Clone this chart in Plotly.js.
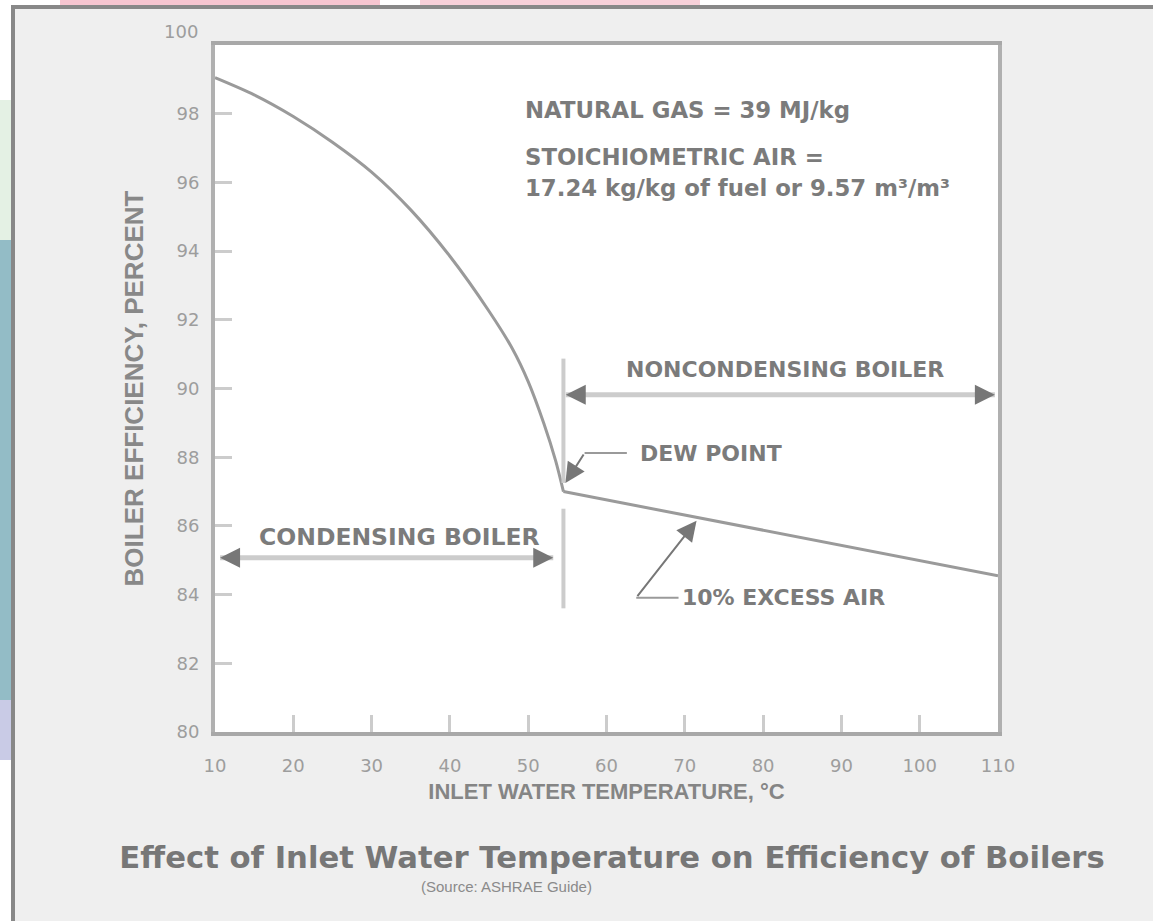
<!DOCTYPE html>
<html>
<head>
<meta charset="utf-8">
<script src="https://cdn.plot.ly/plotly-3.0.1.min.js"></script>
<style>
html,body{margin:0;padding:0;background:#ffffff;}
#chart{width:1153px;height:921px;}
</style>
</head>
<body>
<div id="chart"></div>
<script>
// ---- data ----
const condensingTemp = [10, 15, 20, 25, 30, 35, 40, 45, 48, 50, 52, 53.5, 54.5];
const condensingEff  = [99.05, 98.55, 97.92, 97.17, 96.3, 95.2, 93.85, 92.25, 91.15, 90.2, 88.98, 87.9, 87.0];
const nonCondensingTemp = [54.5, 110];
const nonCondensingEff  = [87.0, 84.55];
const xTickVals = [10, 20, 30, 40, 50, 60, 70, 80, 90, 100, 110];
const xTickLabels = ['10','20','30','40','50','60','70','80','90','100','110'];
const yTickVals = [80, 82, 84, 86, 88, 90, 92, 94, 96, 98, 100];
const yTickLabels = ['80','82','84','86','88','90','92','94','96','98',''];
const dewPointTemp = 54.5;

// ---- geometry helpers (plot area in pixels) ----
const W = 1153, H = 921;
const PL = 215, PR = 998, PT = 45, PB = 732;
const pxX = p => (p - PL) / (PR - PL);
const pxY = p => (PB - p) / (PB - PT);

const annFont = {family: 'DejaVu Sans', size: 22, color: '#7b7b7b', weight: 'bold'};
const arrowGray = '#777777';

const traces = [
  {x: condensingTemp, y: condensingEff, mode: 'lines', line: {color: '#9a9a9a', width: 3, shape: 'spline', smoothing: 0.8}, hoverinfo: 'skip'},
  {x: nonCondensingTemp, y: nonCondensingEff, mode: 'lines', line: {color: '#9a9a9a', width: 3}, hoverinfo: 'skip'}
];

const shapes = [
  // white outer strips and frame
  {type: 'rect', xref: 'paper', yref: 'paper', x0: pxX(0), x1: pxX(11), y0: pxY(921), y1: pxY(0), fillcolor: '#ffffff', line: {width: 0}, layer: 'below'},
  {type: 'rect', xref: 'paper', yref: 'paper', x0: pxX(0), x1: pxX(1153), y0: pxY(5.5), y1: pxY(0), fillcolor: '#ffffff', line: {width: 0}, layer: 'below'},
  {type: 'rect', xref: 'paper', yref: 'paper', x0: pxX(60), x1: pxX(380), y0: pxY(5.5), y1: pxY(0), fillcolor: 'rgba(238,150,170,0.55)', line: {width: 0}, layer: 'below'},
  {type: 'rect', xref: 'paper', yref: 'paper', x0: pxX(420), x1: pxX(700), y0: pxY(5.5), y1: pxY(0), fillcolor: 'rgba(238,150,170,0.45)', line: {width: 0}, layer: 'below'},
  {type: 'rect', xref: 'paper', yref: 'paper', x0: pxX(0), x1: pxX(11), y0: pxY(240), y1: pxY(100), fillcolor: '#e4f1e4', line: {width: 0}, layer: 'below'},
  {type: 'rect', xref: 'paper', yref: 'paper', x0: pxX(0), x1: pxX(11), y0: pxY(700), y1: pxY(240), fillcolor: '#93bcc6', line: {width: 0}, layer: 'below'},
  {type: 'rect', xref: 'paper', yref: 'paper', x0: pxX(0), x1: pxX(11), y0: pxY(760), y1: pxY(700), fillcolor: '#c9cbe6', line: {width: 0}, layer: 'below'},
  {type: 'line', xref: 'paper', yref: 'paper', x0: pxX(13), x1: pxX(13), y0: pxY(921), y1: pxY(6), line: {color: '#888888', width: 4}},
  {type: 'line', xref: 'paper', yref: 'paper', x0: pxX(11), x1: pxX(1153), y0: pxY(7), y1: pxY(7), line: {color: '#888888', width: 4}},
  // dew point vertical divider
  {type: 'line', x0: dewPointTemp, x1: dewPointTemp, y0: 90.87, y1: 87.25, line: {color: '#cccccc', width: 4}},
  {type: 'line', x0: dewPointTemp, x1: dewPointTemp, y0: 86.5, y1: 83.6, line: {color: '#cccccc', width: 4}},
  // double-arrow shafts
  {type: 'line', x0: 10.65, x1: 53.2, y0: 85.07, y1: 85.07, line: {color: '#cccccc', width: 5}},
  {type: 'line', x0: 54.8, x1: 109.6, y0: 89.82, y1: 89.82, line: {color: '#cccccc', width: 5}},
  // leader horizontals
  {type: 'line', x0: 57.2, x1: 62.6, y0: 88.12, y1: 88.12, line: {color: '#9a9a9a', width: 2}},
  {type: 'line', x0: 63.8, x1: 69.2, y0: 83.91, y1: 83.91, line: {color: '#9a9a9a', width: 2}}
];

function arrowAnn(x, y, ax, ay) {
  return {x: x, y: y, ax: ax, ay: ay, xref: 'x', yref: 'y', axref: 'x', ayref: 'y', text: '',
    showarrow: true, arrowhead: 2, arrowsize: 2, arrowwidth: 2, arrowcolor: arrowGray, standoff: 0, startstandoff: 0};
}

const annotations = [
  {text: 'NATURAL GAS = 39 MJ/kg', x: 49.3, y: 98.1, xanchor: 'left', yanchor: 'middle', showarrow: false, font: Object.assign({}, annFont, {size: 22.8})},
  {text: 'STOICHIOMETRIC AIR =', x: 49.3, y: 96.73, xanchor: 'left', yanchor: 'middle', showarrow: false, font: Object.assign({}, annFont, {size: 22.8})},
  {text: '17.24 kg/kg of fuel or 9.57 m³/m³', x: 49.3, y: 95.83, xanchor: 'left', yanchor: 'middle', showarrow: false, font: Object.assign({}, annFont, {size: 22.8})},
  {text: 'NONCONDENSING BOILER', x: 82.8, y: 90.56, xanchor: 'center', yanchor: 'middle', showarrow: false, font: annFont},
  {text: 'DEW POINT', x: 64.0, y: 88.11, xanchor: 'left', yanchor: 'middle', showarrow: false, font: annFont},
  {text: 'CONDENSING BOILER', x: 33.6, y: 85.67, xanchor: 'center', yanchor: 'middle', showarrow: false, font: Object.assign({}, annFont, {size: 23.5})},
  {text: '10% EXCESS AIR', x: 69.4, y: 83.91, xanchor: 'left', yanchor: 'middle', showarrow: false, font: annFont},
  // arrowheads
  arrowAnn(10.65, 85.07, 12.8, 85.07),
  arrowAnn(53.2, 85.07, 51.0, 85.07),
  arrowAnn(54.8, 89.82, 57.0, 89.82),
  arrowAnn(109.6, 89.82, 107.4, 89.82),
  arrowAnn(54.75, 87.25, 57.2, 88.12),
  arrowAnn(71.5, 86.15, 63.8, 83.91),
  // y "100" label sits above the frame
  {text: '100', xref: 'paper', yref: 'y', x: 0, y: 100, xanchor: 'right', yanchor: 'middle', xshift: -15, yshift: 14, showarrow: false,
   font: {family: 'DejaVu Sans', size: 18, color: '#9d9d9d'}},
  // source line
  {text: '(Source: ASHRAE Guide)', xref: 'paper', yref: 'paper', x: pxX(506), y: pxY(886), xanchor: 'center', yanchor: 'middle', showarrow: false,
   font: {family: 'Liberation Sans', size: 15, color: '#8a8a8a'}}
];

const layout = {
  width: W, height: H,
  margin: {l: PL, r: W - PR, t: PT, b: H - PB, pad: 0},
  paper_bgcolor: '#efefef',
  plot_bgcolor: '#ffffff',
  showlegend: false,
  title: {text: 'Effect of Inlet Water Temperature on Efficiency of Boilers', x: 612 / W, y: 1 - 857 / H, xanchor: 'center', yanchor: 'middle',
    font: {family: 'DejaVu Sans', size: 30.7, color: '#777777', weight: 'bold'}},
  xaxis: {range: [10, 110], tickvals: xTickVals, ticktext: xTickLabels, ticks: 'inside', ticklen: 17, tickwidth: 3, tickcolor: '#cccccc',
    showline: true, linecolor: '#a8a8a8', linewidth: 4, mirror: true, showgrid: false, zeroline: false, ticklabelstandoff: 14,
    tickfont: {family: 'DejaVu Sans', size: 18, color: '#9d9d9d'}, fixedrange: true,
    title: {text: 'INLET WATER TEMPERATURE, °C', standoff: 10, font: {family: 'Liberation Sans', size: 22, color: '#858585', weight: 'bold'}}},
  yaxis: {range: [80, 100], tickvals: yTickVals, ticktext: yTickLabels, ticks: 'inside', ticklen: 17, tickwidth: 3, tickcolor: '#cccccc',
    showline: true, linecolor: '#b0b0b0', linewidth: 4, mirror: true, showgrid: false, zeroline: false, ticklabelstandoff: 8,
    tickfont: {family: 'DejaVu Sans', size: 18, color: '#9d9d9d'}, fixedrange: true,
    title: {text: 'BOILER EFFICIENCY, PERCENT', standoff: 26, font: {family: 'Liberation Sans', size: 26, color: '#888888', weight: 'bold'}}},
  shapes: shapes,
  annotations: annotations
};

Plotly.newPlot('chart', traces, layout, {staticPlot: true, displayModeBar: false});
</script>
</body>
</html>
